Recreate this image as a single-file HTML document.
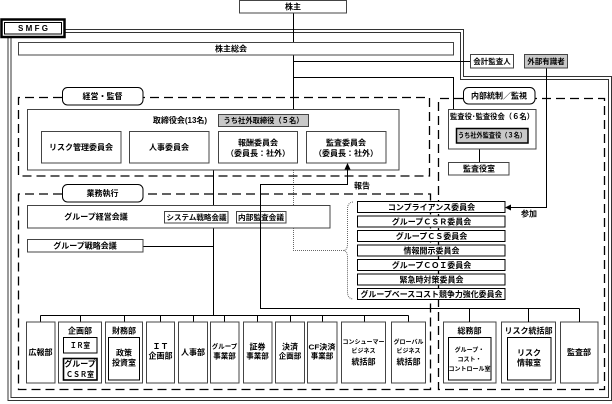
<!DOCTYPE html>
<html><head><meta charset="utf-8">
<style>
html,body{margin:0;padding:0;background:#fff;}
svg{display:block;}
text{font-family:"Liberation Sans","Noto Sans CJK JP",sans-serif;font-weight:bold;font-size:8px;fill:#000;text-anchor:middle;dominant-baseline:central;}
</style></head><body>
<svg width="612" height="404" viewBox="0 0 612 404" xmlns="http://www.w3.org/2000/svg">
<rect width="612" height="404" fill="#fff"/>

<!-- SMFG boundary double line -->
<g fill="none" stroke="#333" stroke-width="1">
  <polyline points="65,29.5 463.5,29.5 463.5,76.5 611.5,76.5 611.5,400.5 8,400.5 8,38"/>
  <polyline points="65,32.5 460.5,32.5 460.5,79.5 608.5,79.5 608.5,397.5 11,397.5 11,38"/>
</g>

<!-- connectors (behind boxes) -->
<g fill="none" stroke="#000" stroke-width="1">
  <line x1="293.5" y1="13" x2="293.5" y2="109"/>
  <line x1="293.5" y1="61.5" x2="470" y2="61.5"/>
  <polyline points="293.5,77.5 453.5,77.5 453.5,109"/>
  <line x1="213.5" y1="170" x2="213.5" y2="315.5"/>
  <line x1="143" y1="246.5" x2="213.5" y2="246.5"/>
  <line x1="40.5" y1="315.5" x2="408.5" y2="315.5"/>
  <line x1="40.5" y1="315.5" x2="40.5" y2="322"/>
  <line x1="80.5" y1="315.5" x2="80.5" y2="322"/>
  <line x1="124.5" y1="315.5" x2="124.5" y2="322"/>
  <line x1="160.5" y1="315.5" x2="160.5" y2="322"/>
  <line x1="193.5" y1="315.5" x2="193.5" y2="322"/>
  <line x1="224.5" y1="315.5" x2="224.5" y2="322"/>
  <line x1="257.5" y1="315.5" x2="257.5" y2="322"/>
  <line x1="290.5" y1="315.5" x2="290.5" y2="322"/>
  <line x1="322.5" y1="315.5" x2="322.5" y2="322"/>
  <line x1="364.5" y1="315.5" x2="364.5" y2="322"/>
  <line x1="408.5" y1="315.5" x2="408.5" y2="322"/>
  <line x1="479.5" y1="149" x2="479.5" y2="162"/>
  <polyline points="546.5,68 546.5,207.5 510,207.5"/>
</g>
<polygon points="505,207.5 511,204.5 511,210.5" fill="#000"/>

<!-- dotted link + brace -->
<g fill="none" stroke="#666" stroke-width="1" stroke-dasharray="1 1">
  <polyline points="293.5,170 293.5,250.5 343,250.5"/>
  <path d="M353,202 Q347.5,202.5 347.5,209 L347.5,244 Q347.5,250.5 343,250.5 Q347.5,250.5 347.5,257 L347.5,292 Q347.5,298.5 353,299"/>
</g>

<!-- dashed group boxes -->
<g fill="none" stroke="#000" stroke-width="1.3" stroke-dasharray="9 5">
  <polyline points="62,97.5 18.5,97.5 18.5,176 429.5,176 429.5,97.5 143,97.5"/>
  <polyline points="62,194 18.5,194 18.5,389.5 430.5,389.5 430.5,194 143,194"/>
  <polyline points="463,98.5 438.5,98.5 438.5,389.5 604.5,389.5 604.5,98.5 535,98.5"/>
</g>

<!-- SMFG box -->
<rect x="1.5" y="19.5" width="63" height="17.5" fill="#fff" stroke="#000" stroke-width="2.5"/>
<rect x="4.5" y="22.5" width="57" height="11.5" fill="none" stroke="#000" stroke-width="1"/>

<!-- boxes -->
<g fill="#fff" stroke="#444" stroke-width="1">
  <rect x="239.5" y="0.5" width="107" height="12.5"/>
  <rect x="18.5" y="42.5" width="435" height="12.5"/>
  <rect x="470.5" y="54.5" width="43" height="13.5"/>
  <rect x="524.5" y="54.5" width="43" height="13.5" fill="#c8c8c8"/>
  <rect x="27.5" y="109.5" width="371.5" height="60.5"/>
  <rect x="218.5" y="114.5" width="90" height="12" fill="#c8c8c8"/>
  <rect x="41.5" y="131.5" width="79.5" height="31.5"/>
  <rect x="129.5" y="131.5" width="79.5" height="31.5"/>
  <rect x="218.5" y="131.5" width="79" height="31.5"/>
  <rect x="306.5" y="131.5" width="79.5" height="31.5"/>
  <rect x="448.5" y="109.5" width="87.5" height="39.5"/>
  <rect x="456.5" y="128.5" width="71.5" height="14.5" fill="#c8c8c8" stroke="#000" stroke-width="1.5"/>
  <rect x="448.5" y="162.5" width="60.5" height="12.5"/>
  <rect x="27.5" y="205.5" width="302.5" height="22.5"/>
  <rect x="164.5" y="211.5" width="63.5" height="11.5"/>
  <rect x="236.5" y="211.5" width="49.5" height="11.5"/>
  <rect x="27.5" y="239.5" width="115.5" height="12.5"/>
</g>

<!-- committee stack -->
<g fill="#fff" stroke="#000" stroke-width="1">
  <rect x="357.5" y="201.5" width="147.5" height="11"/>
  <rect x="357.5" y="216" width="147.5" height="11"/>
  <rect x="357.5" y="230.5" width="147.5" height="11"/>
  <rect x="357.5" y="245" width="147.5" height="11"/>
  <rect x="357.5" y="259.5" width="147.5" height="11"/>
  <rect x="357.5" y="274" width="147.5" height="11"/>
  <rect x="357.5" y="288.5" width="147.5" height="11"/>
</g>

<!-- department boxes -->
<g fill="#fff" stroke="#444" stroke-width="1">
  <rect x="26.5" y="322" width="28.5" height="61"/>
  <rect x="58.5" y="322" width="43" height="61"/>
  <rect x="105.5" y="322" width="37" height="61"/>
  <rect x="146.5" y="322" width="28" height="61"/>
  <rect x="178.5" y="322" width="29" height="61"/>
  <rect x="210.5" y="322" width="28.5" height="61"/>
  <rect x="243.5" y="322" width="28.5" height="61"/>
  <rect x="275.5" y="322" width="29" height="61"/>
  <rect x="307.5" y="322" width="29.5" height="61"/>
  <rect x="341.5" y="322" width="44" height="61"/>
  <rect x="391.5" y="322" width="34" height="61"/>
  <rect x="443.5" y="322" width="52.5" height="61"/>
  <rect x="501.5" y="322" width="54" height="61"/>
  <rect x="560.5" y="322" width="37.5" height="61"/>
  <!-- inner boxes -->
  <rect x="63.5" y="337.5" width="33.5" height="15.5" stroke="#000"/>
  <rect x="63.5" y="358.5" width="33.5" height="21.5" stroke="#000" stroke-width="1.6"/>
  <rect x="108.5" y="337.5" width="31" height="42.5" stroke="#000"/>
  <rect x="448.5" y="337.5" width="42.5" height="42.5" stroke="#000"/>
  <rect x="507.5" y="337.5" width="43.5" height="42.5" stroke="#000"/>
</g>

<!-- dashed group labels -->
<g fill="#fff" stroke="#000" stroke-width="1">
  <rect x="62.5" y="87.5" width="80.5" height="17.5" rx="5"/>
  <rect x="62.5" y="184.5" width="80.5" height="17.5" rx="5"/>
  <rect x="463.5" y="87.5" width="71.5" height="16.5" rx="5"/>
</g>

<!-- report line (on top) -->
<g fill="none" stroke="#000" stroke-width="1">
  <polyline points="347.5,168 347.5,184.5 260.5,184.5 260.5,308.5 579.5,308.5"/>
  <line x1="469.5" y1="308.5" x2="469.5" y2="322"/>
  <line x1="528.5" y1="308.5" x2="528.5" y2="322"/>
  <line x1="579.5" y1="308.5" x2="579.5" y2="322"/>
</g>
<polygon points="347.5,163 344.5,169.5 350.5,169.5" fill="#000"/>

<!-- texts -->
<text x="33" y="28.5" style="font-family:'Liberation Sans',sans-serif" textLength="30" lengthAdjust="spacing">S M F G</text>
<text x="293" y="7">株主</text>
<text x="231" y="49">株主総会</text>
<text x="492" y="61.5" style="font-size:7.5px">会計監査人</text>
<text x="546" y="61.5" style="font-size:7.5px">外部有識者</text>

<text x="102.5" y="96.5">経営・監督</text>
<text x="180" y="120.5">取締役会(13名)</text>
<text x="263.5" y="120.5" style="font-size:7.5px" textLength="80" lengthAdjust="spacingAndGlyphs">うち社外取締役（５名）</text>
<text x="81" y="147.5">リスク管理委員会</text>
<text x="169" y="147.5">人事委員会</text>
<text x="258" y="143">報酬委員会</text>
<text x="258" y="153.5">（委員長：社外）</text>
<text x="346" y="143">監査委員会</text>
<text x="346" y="153.5">（委員長：社外）</text>

<text x="499" y="96">内部統制／監視</text>
<text x="492" y="116.5" style="font-size:7.5px" textLength="84" lengthAdjust="spacingAndGlyphs">監査役･監査役会（６名）</text>
<text x="492" y="136" style="font-size:7px" textLength="68" lengthAdjust="spacingAndGlyphs">うち社外監査役（３名）</text>
<text x="479" y="169">監査役室</text>

<text x="362" y="186">報告</text>
<text x="102.5" y="193.5">業務執行</text>
<text x="96" y="217">グループ経営会議</text>
<text x="196.5" y="217.5" style="font-size:7.5px" textLength="60" lengthAdjust="spacingAndGlyphs">システム戦略会議</text>
<text x="261" y="217.5" style="font-size:7.5px" textLength="46" lengthAdjust="spacingAndGlyphs">内部監査会議</text>
<text x="85" y="246">グループ戦略会議</text>

<text x="431.5" y="207.3">コンプライアンス委員会</text>
<text x="431.5" y="221.8">グループＣＳＲ委員会</text>
<text x="431.5" y="236.3">グループＣＳ委員会</text>
<text x="431.5" y="250.8">情報開示委員会</text>
<text x="431.5" y="265.3">グループＣＯＩ委員会</text>
<text x="431.5" y="279.8">緊急時対策委員会</text>
<text x="431.5" y="294.3" textLength="142" lengthAdjust="spacingAndGlyphs">グループベースコスト競争力強化委員会</text>
<text x="529" y="214">参加</text>

<text x="40.5" y="352.5">広報部</text>
<text x="80" y="331">企画部</text>
<text x="80" y="345.5" style="font-size:7.5px" textLength="20" lengthAdjust="spacingAndGlyphs">ＩＲ室</text>
<text x="80" y="364">グループ</text>
<text x="80" y="374.5" style="font-size:7.5px" textLength="28" lengthAdjust="spacingAndGlyphs">ＣＳＲ室</text>
<text x="124" y="331">財務部</text>
<text x="124" y="353">政策</text>
<text x="124" y="363">投資室</text>
<text x="160.5" y="346.5">ＩＴ</text>
<text x="160.5" y="356">企画部</text>
<text x="193" y="352.5">人事部</text>
<text x="224.5" y="347" style="font-size:6.5px">グループ</text>
<text x="224.5" y="356" style="font-size:7.5px">事業部</text>
<text x="257.5" y="347">証券</text>
<text x="257.5" y="356" style="font-size:7.5px">事業部</text>
<text x="290" y="347">決済</text>
<text x="290" y="356" style="font-size:7.5px">企画部</text>
<text x="322" y="347" style="font-size:7.5px" textLength="27" lengthAdjust="spacingAndGlyphs">CF決済</text>
<text x="322" y="356" style="font-size:7.5px">事業部</text>
<text x="363.5" y="343" style="font-size:6px">コンシューマー</text>
<text x="363.5" y="352" style="font-size:6px">ビジネス</text>
<text x="363.5" y="362">統括部</text>
<text x="408.5" y="343" style="font-size:6px">グローバル</text>
<text x="408.5" y="352" style="font-size:6px">ビジネス</text>
<text x="408.5" y="362">統括部</text>
<text x="469.5" y="331">総務部</text>
<text x="469.5" y="351" style="font-size:6px">グループ・</text>
<text x="469.5" y="360.5" style="font-size:6px">コスト・</text>
<text x="469.5" y="370" style="font-size:6px">コントロール室</text>
<text x="528.5" y="331">リスク統括部</text>
<text x="529" y="353">リスク</text>
<text x="529" y="363">情報室</text>
<text x="579" y="352.5">監査部</text>
</svg>
</body></html>
